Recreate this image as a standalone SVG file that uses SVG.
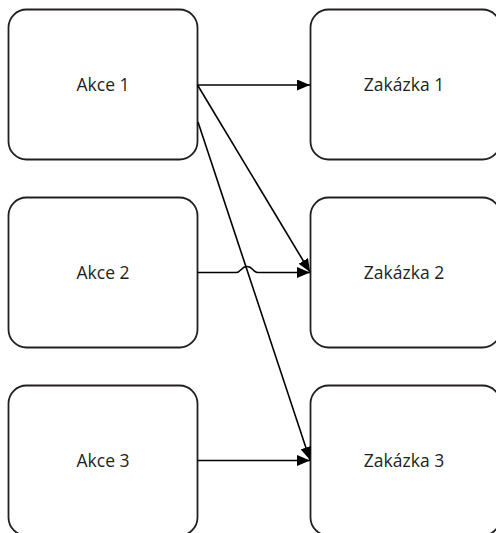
<svg xmlns="http://www.w3.org/2000/svg" width="496" height="533" viewBox="0 0 496 533">
<style>
.box{fill:#fff;stroke:#231f20;stroke-width:1.8}
.lbl{font-family:"Open Sans","Liberation Sans",sans-serif;font-size:17.5px;fill:#231f20;text-anchor:middle}
.conn{fill:none;stroke:#000;stroke-width:1.6}
</style>
<defs>
<marker id="arr" markerWidth="13" markerHeight="11" refX="13" refY="5.5" orient="auto" markerUnits="userSpaceOnUse">
<path d="M0,0 L13,5.5 L0,11 Z" fill="#000"/>
</marker>
</defs>
<rect width="496" height="533" fill="#fff"/>
<g id="akce1"><rect class="box" x="8.5" y="9.5" width="189" height="150" rx="18"/><text class="lbl" x="103" y="91">Akce 1</text></g>
<g id="akce2"><rect class="box" x="8.5" y="197.5" width="189" height="150" rx="18"/><text class="lbl" x="103" y="279">Akce 2</text></g>
<g id="akce3"><rect class="box" x="8.5" y="385.5" width="189" height="150" rx="18"/><text class="lbl" x="103" y="467">Akce 3</text></g>
<g id="zakazka1"><rect class="box" x="310.5" y="9.5" width="190" height="150" rx="18"/><text class="lbl" x="404" y="91">Zakázka 1</text></g>
<g id="zakazka2"><rect class="box" x="310.5" y="197.5" width="190" height="150" rx="18"/><text class="lbl" x="404" y="279">Zakázka 2</text></g>
<g id="zakazka3"><rect class="box" x="310.5" y="385.5" width="190" height="150" rx="18"/><text class="lbl" x="404" y="467">Zakázka 3</text></g>
<g id="connectors">
<path class="conn" d="M197.5,85 L310,85" marker-end="url(#arr)"/>
<path class="conn" d="M197.5,85 L310,272" marker-end="url(#arr)"/>
<path class="conn" d="M198,122 L310,460" marker-end="url(#arr)"/>
<path class="conn" d="M197.5,272.5 L236,272.5 C241,272.5 241,266.5 247,266.5 C253,266.5 253,272.5 258,272.5 L310,272.5" marker-end="url(#arr)"/>
<path class="conn" d="M197.5,460.5 L310,460.5" marker-end="url(#arr)"/>
</g>
</svg>
